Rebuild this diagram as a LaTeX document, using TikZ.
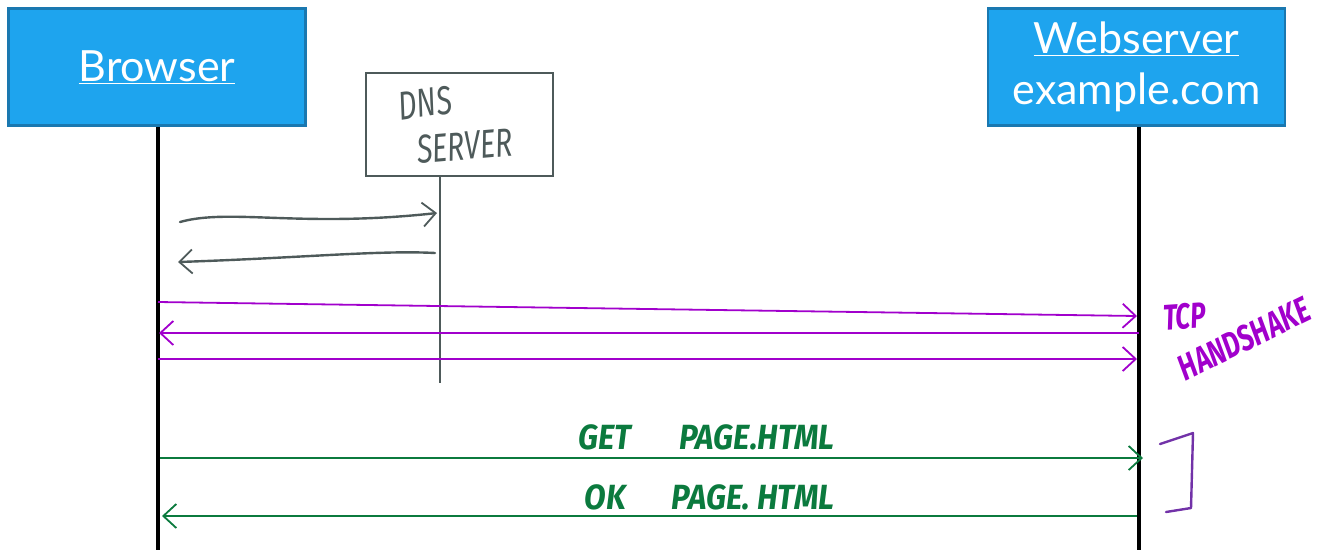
\documentclass[tikz,border=0pt]{standalone}
\usepackage{fontspec}
\setmainfont{Lato}
\newfontfamily\handfont[FakeStretch=0.9]{Fira Sans}
\newfontfamily\narrowhand[FakeStretch=0.72]{Fira Sans}
\usetikzlibrary{arrows.meta}
\definecolor{boxblue}{HTML}{1EA4EE}
\definecolor{boxedge}{HTML}{1A78B0}
\definecolor{dnsgrey}{HTML}{4E5A5A}
\definecolor{tcppurple}{HTML}{A100CC}
\definecolor{httpgreen}{HTML}{0B7A3E}
\definecolor{bracketpurple}{HTML}{7232A8}
\begin{document}
\begin{tikzpicture}[x=1pt,y=-1pt,
  actor/.style={draw=boxedge,line width=2.5pt,fill=boxblue,text=white,
    minimum width=297pt,minimum height=117pt,inner sep=0pt,align=center,
    font=\fontsize{43}{51}\selectfont},
  dnsbox/.style={draw=dnsgrey,line width=2pt,fill=white,minimum width=187pt,
    minimum height=103pt,inner sep=0pt},
  lifeline/.style={line width=3.5pt,black},
  tip/.style={-{Straight Barb[length=13pt,width=24pt,line width=1.8pt]}},
  greymsg/.style={dnsgrey,line width=2.4pt,tip,line cap=round},
  tcpmsg/.style={tcppurple,line width=1.8pt,tip},
  httpmsg/.style={httpgreen,line width=2.2pt,tip},
  dnshand/.style={inner sep=0pt,font=\narrowhand\itshape\fontsize{40}{44}\selectfont},
  msghand/.style={inner sep=0pt,font=\handfont\bfseries\itshape\fontsize{35}{38}\selectfont},
  notehand/.style={inner sep=0pt,font=\narrowhand\bfseries\itshape\fontsize{36}{40}\selectfont}]
\useasboundingbox (0,0) rectangle (1329,550);

% participants
\node[actor] (browser) at (157,67) {\underline{Browser}};
\node[actor] (web) at (1136.5,67) {\underline{Webserver}\\[0pt]example.com};
\node[dnsbox] (dns) at (459,124) {};
\node[dnshand,dnsgrey,rotate=8] (dnslabel1) at (425,103) {DNS};
\node[dnshand,dnsgrey,rotate=5] (dnslabel2) at (465,146) {SERVER};

% lifelines
\coordinate (bEnd) at (158,550);
\coordinate (wEnd) at (1139,550);
\coordinate (dTop) at (440,176);
\coordinate (dEnd) at (440,383);
\draw[lifeline] (browser.south -| bEnd) -- (bEnd);
\draw[lifeline] (web.south -| wEnd) -- (wEnd);
\draw[dnsgrey,line width=2pt] (dTop) -- (dEnd);

% DNS lookup
\coordinate (q1) at (180,222);
\coordinate (q2) at (437,213);
\coordinate (r1) at (435,253);
\coordinate (r2) at (178,262);
\draw[greymsg] (q1) .. controls (230,208) and (300,228) .. (q2);
\draw[greymsg] (r1) .. controls (380,250) and (300,258) .. (r2);

% TCP handshake
\coordinate (t1a) at (158,302);
\coordinate (t1b) at (1137,316);
\coordinate (t2a) at (1139,333);
\coordinate (t2b) at (159,333);
\coordinate (t3a) at (158,359);
\coordinate (t3b) at (1137,359);
\draw[tcpmsg] (t1a) -- (t1b);
\draw[tcpmsg] (t2a) -- (t2b);
\draw[tcpmsg] (t3a) -- (t3b);
\node[notehand,tcppurple,rotate=4,anchor=south west] (tcp) at (1164,331) {TCP};
\node[notehand,tcppurple,rotate=26,anchor=south west] (hs) at (1186,382) {HANDSHAKE};

% HTTP exchange
\coordinate (g1) at (160,458);
\coordinate (g2) at (1143,458);
\coordinate (o1) at (1137,516);
\coordinate (o2) at (162,516);
\draw[httpmsg] (g1) -- node[msghand,httpgreen,above=7pt,xshift=55pt] (getlabel) {GET\hspace{48pt}PAGE.HTML} (g2);
\draw[httpmsg] (o1) -- node[msghand,httpgreen,above=5pt,xshift=60pt] (oklabel) {OK\hspace{46pt}PAGE. HTML} (o2);

% bracket
\coordinate (k1) at (1160,444);
\coordinate (k2) at (1193,433);
\coordinate (k3) at (1191,508);
\coordinate (k4) at (1166,512);
\draw[bracketpurple,line width=2.4pt,line cap=round,line join=round]
  (k1) -- (k2) -- (k3) -- (k4);
\end{tikzpicture}
\end{document}
